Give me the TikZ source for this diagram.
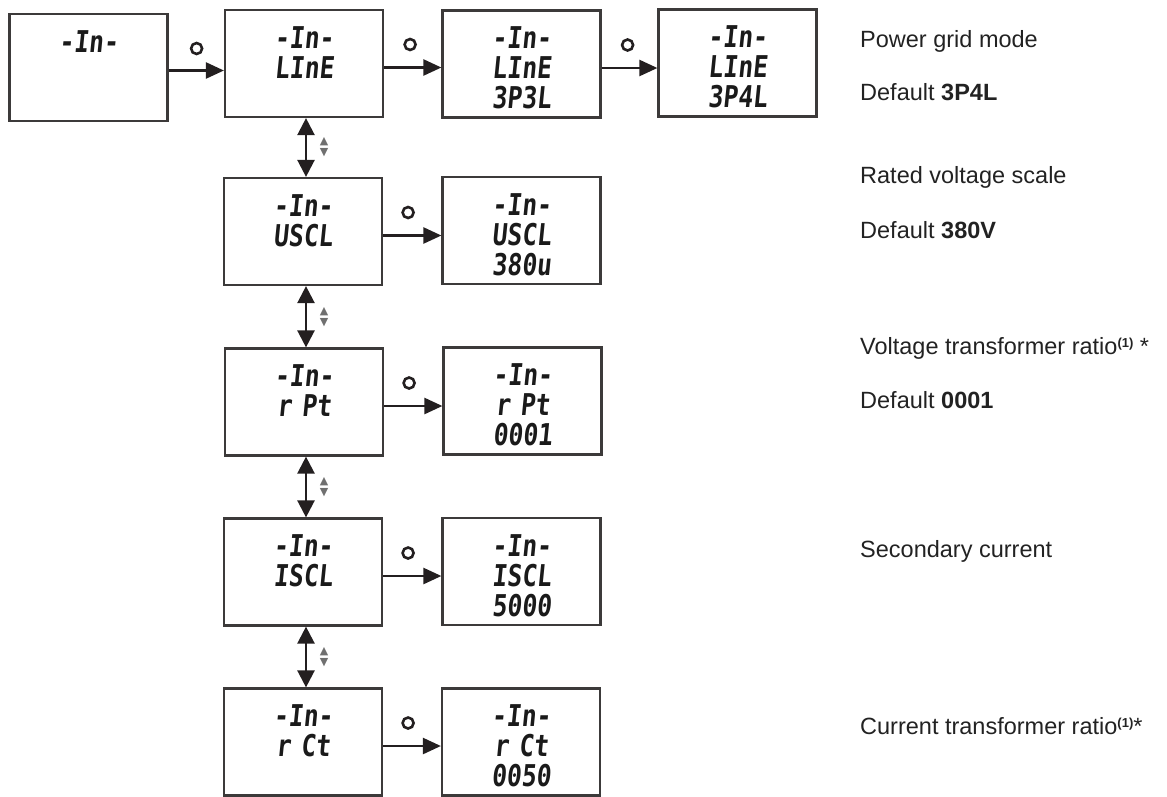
\documentclass[tikz,border=0pt]{standalone}
\usepackage{fontspec}
\setmainfont{Liberation Sans}
\newfontfamily\lcdfont[FakeStretch=0.82,FakeSlant=0.1]{DejaVu Sans Mono}
\newfontfamily\symfont{DejaVu Sans}
\usetikzlibrary{arrows.meta}
\definecolor{boxgray}{HTML}{3C3A3A}
\definecolor{lineblack}{HTML}{231F20}
\definecolor{lcdblack}{HTML}{1A1A1A}
\definecolor{textblack}{HTML}{222222}
\definecolor{udgray}{HTML}{707070}
\newcommand{\supone}{\raisebox{7pt}{\fontsize{13}{13}\selectfont\bfseries(1)}}
\begin{document}
\begin{tikzpicture}[x=1pt,y=-1pt,
  lcdbox/.style={draw=boxgray, line width=2.2pt, inner sep=0pt, text width=158pt,
    align=center, text height=38pt, text depth=69pt,
    font=\lcdfont\bfseries\fontsize{30}{30}\selectfont, text=lcdblack},
  arr/.style={-{Triangle[length=18pt,width=16pt]}, line width=2.4pt, draw=lineblack},
  darr/.style={{Triangle[length=17pt,width=17pt]}-{Triangle[length=17pt,width=17pt]}, line width=2.4pt, draw=lineblack},
  btn/.style={circle, draw=lineblack, line width=2.6pt, minimum size=11pt, inner sep=0pt},
  ud/.style={font=\symfont\fontsize{11}{11}\selectfont, text=udgray, align=center, inner sep=0pt},
  desc/.style={anchor=base west, inner sep=0pt, text=textblack, font=\fontsize{23.5}{28}\selectfont}
]
\useasboundingbox (0,0) rectangle (1167,796);

% top row
\node[lcdbox] (A) at (88.5,67.5) {-In-};
\node[lcdbox] (B) at (304,63.5) {-In-\\LInE};
\node[lcdbox] (C) at (521.5,64) {-In-\\LInE\\3P3L};
\node[lcdbox] (D) at (737.5,63) {-In-\\LInE\\3P4L};
% column rows
\node[lcdbox] (R2L) at (303,231.5) {-In-\\USCL};
\node[lcdbox] (R2R) at (521.5,230.5) {-In-\\USCL\\380u};
\node[lcdbox] (R3L) at (304,402) {-In-\\r Pt};
\node[lcdbox] (R3R) at (522.5,401) {-In-\\r Pt\\0001};
\node[lcdbox] (R4L) at (303,572) {-In-\\ISCL};
\node[lcdbox] (R4R) at (521.5,571.5) {-In-\\ISCL\\5000};
\node[lcdbox] (R5L) at (303,742) {-In-\\r Ct};
\node[lcdbox] (R5R) at (521,742) {-In-\\r Ct\\0050};

% horizontal arrows with button marks
\draw[arr] ([yshift=-3pt]A.east) -- ([yshift=-3pt]A.east -| B.west)
  node[btn, at start, xshift=28pt, yshift=22pt] (o1) {};
\draw[arr] ([yshift=-4pt]B.east) -- ([yshift=-4pt]B.east -| C.west)
  node[btn, at start, xshift=26pt, yshift=23pt] (o2) {};
\draw[arr] ([yshift=-4pt]C.east) -- ([yshift=-4pt]C.east -| D.west)
  node[btn, at start, xshift=26pt, yshift=23pt] (o3) {};
\draw[arr] ([yshift=-4pt]R2L.east) -- ([yshift=-4pt]R2L.east -| R2R.west)
  node[btn, at start, xshift=25pt, yshift=23pt] (o4) {};
\draw[arr] ([yshift=-4pt]R3L.east) -- ([yshift=-4pt]R3L.east -| R3R.west)
  node[btn, at start, xshift=25pt, yshift=23pt] (o5) {};
\draw[arr] ([yshift=-4pt]R4L.east) -- ([yshift=-4pt]R4L.east -| R4R.west)
  node[btn, at start, xshift=25pt, yshift=23pt] (o6) {};
\draw[arr] ([yshift=-4pt]R5L.east) -- ([yshift=-4pt]R5L.east -| R5R.west)
  node[btn, at start, xshift=25pt, yshift=23pt] (o7) {};

% vertical double arrows with up/down marks
\draw[darr] ([xshift=2pt]B.south) -- ([xshift=2pt]B.south |- R2L.north)
  node[ud, midway, xshift=18pt] (u1) {▲\\▼};
\draw[darr] ([xshift=3pt]R2L.south) -- ([xshift=3pt]R2L.south |- R3L.north)
  node[ud, midway, xshift=18pt] (u2) {▲\\▼};
\draw[darr] ([xshift=2pt]R3L.south) -- ([xshift=2pt]R3L.south |- R4L.north)
  node[ud, midway, xshift=18pt] (u3) {▲\\▼};
\draw[darr] ([xshift=3pt]R4L.south) -- ([xshift=3pt]R4L.south |- R5L.north)
  node[ud, midway, xshift=18pt] (u4) {▲\\▼};

% descriptions
\node[desc] (t1) at (860,47) {Power grid mode};
\node[desc] (t2) at (860,100) {Default \textbf{3P4L}};
\node[desc] (t3) at (860,183) {Rated voltage scale};
\node[desc] (t4) at (860,238) {Default \textbf{380V}};
\node[desc] (t5) at (860,354) {Voltage transformer ratio\supone\ *};
\node[desc] (t6) at (860,408) {Default \textbf{0001}};
\node[desc] (t7) at (860,557) {Secondary current};
\node[desc] (t8) at (860,734) {Current transformer ratio\supone*};
\end{tikzpicture}
\end{document}
